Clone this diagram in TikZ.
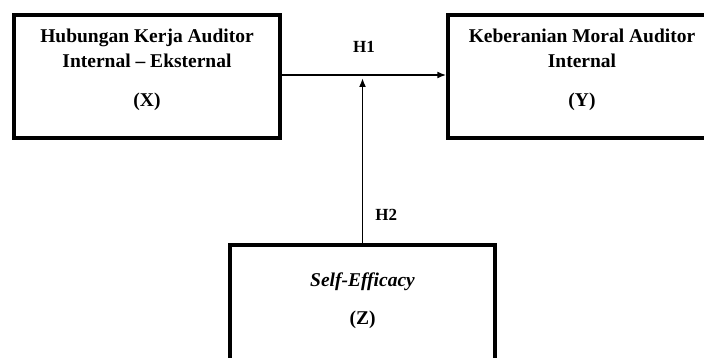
\documentclass[tikz,border=0pt]{standalone}
\usepackage{fontspec}
\setmainfont{Liberation Serif}
\usepackage{tikz}
\usetikzlibrary{arrows.meta, positioning, calc}

\begin{document}
\begin{tikzpicture}[
    x=1pt, y=-1pt,
    varbox/.style={rectangle, draw, line width=3.4pt, minimum width=266pt, minimum height=123pt, inner sep=0pt},
    vartext/.style={anchor=north, align=center, inner sep=0pt, font=\fontsize{19.5}{25}\selectfont\bfseries},
    hyp/.style={font=\fontsize{17}{20}\selectfont\bfseries, inner sep=0pt},
    arrow/.style={-{Latex[length=9pt,width=7pt]}, line width=1.8pt}
]
    \useasboundingbox (0,0) rectangle (704,358);
    \clip (0,0) rectangle (704,358);

    \node [varbox] (x) at (147,76.5) {};
    \node [varbox, minimum width=268pt] (y) at (582,76.5) {};
    \node [varbox, minimum width=265pt] (z) at (362.5,306.5) {};

    \node [vartext] (xtext) at ($(x.north)+(0,15)$) {Hubungan Kerja Auditor\\Internal -- Eksternal\\[14pt](X)};
    \node [vartext] (ytext) at ($(y.north)+(0,15)$) {Keberanian Moral Auditor\\Internal\\[14pt](Y)};
    \node [vartext] (ztext) at ($(z.north)+(0,29)$) {\itshape Self-Efficacy\\[13pt](Z)};

    \draw [arrow] (x.east |- 0,75) -- node[hyp, above=22pt] (h1) {H1} (y.west |- 0,75);
    \draw [arrow] (z.north) -- node[hyp, pos=0.17, right=12pt] (h2) {H2} (z.north |- 0,78);
\end{tikzpicture}
\end{document}
